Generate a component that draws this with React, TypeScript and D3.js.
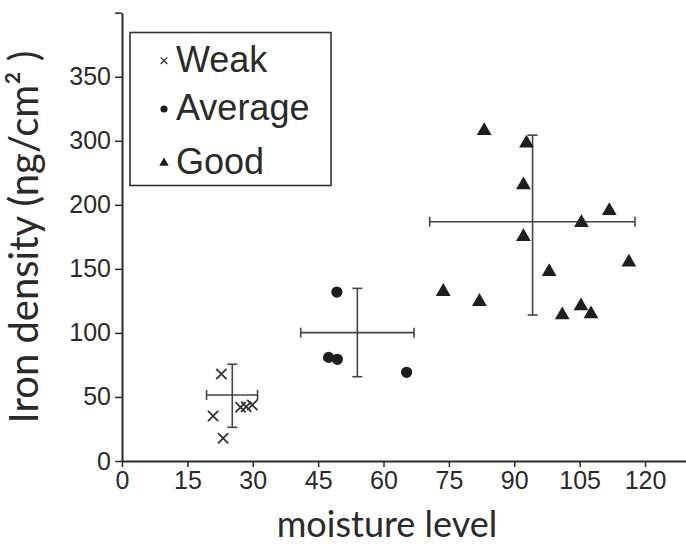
import React, { useEffect, useRef } from "react"
import * as d3 from "d3"

// scatter values
const weakX = [22.8, 20.9, 23.2, 27.2, 28.5, 29.9]
const weakY = [67.9, 35.1, 17.7, 41.9, 42.4, 43.7]
const averageX = [49.3, 47.4, 49.4, 65.3]
const averageY = [131.9, 80.9, 79.4, 69.2]
const goodX = [83.1, 92.8, 92.1, 92.1, 73.7, 82.0, 111.8, 105.4, 116.3, 98.0, 105.3, 101.0, 107.6]
const goodY = [307.8, 296, 230.9, 175.1, 132.2, 124.4, 195.4, 186.0, 155.1, 147.8, 121.0, 114.0, 114.8]

// group means with their bars
const groups = ["Weak", "Average", "Good"]
const meanX = [25.3, 54.0, 94.2]
const meanY = [51.5, 100.2, 186.8]
const xLow = [19.4, 41.0, 70.6]
const xHigh = [31.1, 67.0, 117.7]
const yLow = [26.3, 65.8, 114]
const yHigh = [75.5, 134.8, 304.4]

const xTicks = [0, 15, 30, 45, 60, 75, 90, 105, 120]
// the axis skips 250, so the top part is drawn on its own segment
const yTicks = [0, 50, 100, 150, 200, 300, 350, 400]
const yTickLabels = ["0", "50", "100", "150", "200", "300", "350", ""]

const W = 686
const H = 544
const left = 122
const bottom = 461
const top = 12.7
const ink = "#2a2a2a"

const App = () => {
  const ref = useRef<SVGSVGElement>(null)

  useEffect(() => {
    const svg = d3.select(ref.current)
    svg.selectAll("*").remove()

    const u = (bottom - top) / 7
    const x = d3.scaleLinear().domain([0, 129.4]).range([left, W])
    const y = d3
      .scaleLinear()
      .domain([0, 200, 300, 400])
      .range([bottom, bottom - 4 * u, bottom - 5 * u, top])

    const tickFont = "'Liberation Sans', Arial, sans-serif"

    const gx = svg
      .append("g")
      .attr("transform", `translate(0, ${bottom})`)
      .call(
        d3.axisBottom(x).tickValues(xTicks).tickSize(6).tickSizeOuter(0).tickPadding(4)
      )
    gx.select(".domain").attr("stroke", ink).attr("stroke-width", 2)
    gx.selectAll(".tick line").attr("stroke", ink).attr("stroke-width", 1.5)
    gx.selectAll(".tick text")
      .attr("fill", ink)
      .style("font-family", tickFont)
      .style("font-size", "25px")

    const gy = svg
      .append("g")
      .attr("transform", `translate(${left}, 0)`)
      .call(
        d3
          .axisLeft(y)
          .tickValues(yTicks)
          .tickFormat((d, i) => yTickLabels[i])
          .tickSize(7)
          .tickSizeOuter(0)
          .tickPadding(4)
      )
    gy.select(".domain").attr("stroke", ink).attr("stroke-width", 2)
    gy.selectAll(".tick line").attr("stroke", ink).attr("stroke-width", 1.5)
    gy.selectAll(".tick text")
      .attr("fill", ink)
      .style("font-family", tickFont)
      .style("font-size", "25px")

    // error bars
    const bars = svg.append("g").attr("stroke", "#444").attr("stroke-width", 1.6)
    const cap = 5
    groups.forEach((g, i) => {
      const cx = x(meanX[i])
      const cy = y(meanY[i])
      bars.append("line").attr("x1", x(xLow[i])).attr("x2", x(xHigh[i])).attr("y1", cy).attr("y2", cy)
      bars.append("line").attr("x1", cx).attr("x2", cx).attr("y1", y(yLow[i])).attr("y2", y(yHigh[i]))
      ;[xLow[i], xHigh[i]].forEach(v =>
        bars.append("line").attr("x1", x(v)).attr("x2", x(v)).attr("y1", cy - cap).attr("y2", cy + cap)
      )
      ;[yLow[i], yHigh[i]].forEach(v =>
        bars.append("line").attr("x1", cx - cap).attr("x2", cx + cap).attr("y1", y(v)).attr("y2", y(v))
      )
    })

    const cross = d3.symbol().type(d3.symbolX).size(70)
    const dot = d3.symbol().type(d3.symbolCircle).size(100)
    const tri = d3.symbol().type(d3.symbolTriangle).size(95)

    svg
      .append("g")
      .selectAll("path")
      .data(weakX)
      .join("path")
      .attr("d", cross)
      .attr("transform", (d, i) => `translate(${x(d)}, ${y(weakY[i])})`)
      .attr("fill", "none")
      .attr("stroke", "#333")
      .attr("stroke-width", 1.8)

    svg
      .append("g")
      .selectAll("path")
      .data(averageX)
      .join("path")
      .attr("d", dot)
      .attr("transform", (d, i) => `translate(${x(d)}, ${y(averageY[i])})`)
      .attr("fill", "#1e1e1e")

    svg
      .append("g")
      .selectAll("path")
      .data(goodX)
      .join("path")
      .attr("d", tri)
      .attr("transform", (d, i) => `translate(${x(d)}, ${y(goodY[i])})`)
      .attr("fill", "#1e1e1e")

    // legend
    const lg = svg.append("g")
    lg.append("rect")
      .attr("x", 130)
      .attr("y", 32.5)
      .attr("width", 201)
      .attr("height", 153)
      .attr("fill", "white")
      .attr("stroke", "#333")
      .attr("stroke-width", 1.6)
    const marks = [
      d3.symbol().type(d3.symbolX).size(30),
      d3.symbol().type(d3.symbolCircle).size(40),
      d3.symbol().type(d3.symbolTriangle).size(40)
    ]
    const rowY = [71.7, 120, 174]
    groups.forEach((g, i) => {
      lg.append("path")
        .attr("d", marks[i])
        .attr("transform", `translate(164, ${rowY[i] - 11})`)
        .attr("fill", i === 0 ? "none" : "#1e1e1e")
        .attr("stroke", i === 0 ? "#333" : "none")
        .attr("stroke-width", 1.3)
      lg.append("text")
        .attr("x", 176)
        .attr("y", rowY[i])
        .attr("fill", ink)
        .style("font-family", tickFont)
        .style("font-size", "36px")
        .text(g)
    })

    // axis titles
    svg
      .append("text")
      .attr("transform", "translate(38, 237) rotate(-90)")
      .attr("text-anchor", "middle")
      .attr("fill", ink)
      .style("font-family", "Lato, sans-serif")
      .style("font-size", "40px")
      .text("Iron density (ng/cm² )")

    svg
      .append("text")
      .attr("x", 387)
      .attr("y", 537)
      .attr("text-anchor", "middle")
      .attr("fill", ink)
      .style("font-family", "Lato, sans-serif")
      .style("font-size", "36px")
      .text("moisture level")
  }, [])

  return (
    <svg
      ref={ref}
      width={W}
      height={H}
      style={{ position: "absolute", left: 0, top: 0, background: "white" }}
    />
  )
}

export default App
